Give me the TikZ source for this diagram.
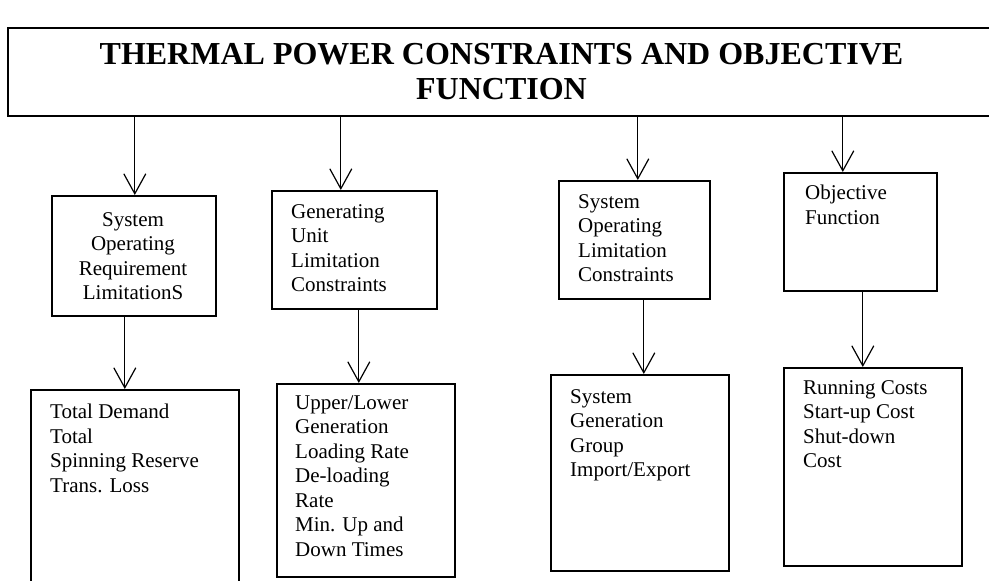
\documentclass[tikz,border=0pt]{standalone}
\usepackage{fontspec}
\setmainfont{Liberation Serif}
\usetikzlibrary{arrows.meta,calc}
\begin{document}
\begin{tikzpicture}[x=1pt,y=-1pt,
  box/.style={draw, line width=1.6pt, inner sep=0pt, anchor=north west},
  titlebox/.style={draw, line width=1.6pt, inner sep=0pt, minimum width=987pt,
    minimum height=88pt, align=center, font=\fontsize{32}{35}\selectfont\bfseries},
  txt/.style={inner sep=0pt, align=left, font=\fontsize{21}{24.5}\selectfont},
  arr/.style={line width=1.2pt, -{Straight Barb[length=20pt,width=22pt,line width=1.2pt]}}
]
\useasboundingbox (0,0) rectangle (989,581);
\clip (0,0) rectangle (989,581);

% title
\node[titlebox] (title) at (501.5,72) {THERMAL POWER CONSTRAINTS AND OBJECTIVE\\FUNCTION};

% first row of boxes
\node[box, minimum width=164pt, minimum height=120pt] (b1) at (51,195) {};
\node[box, minimum width=165pt, minimum height=118pt] (b2) at (271,190) {};
\node[box, minimum width=151pt, minimum height=118pt] (b3) at (558,180) {};
\node[box, minimum width=153pt, minimum height=118pt] (b4) at (783,172) {};

% second row of boxes
\node[box, minimum width=208pt, minimum height=220pt] (b5) at (30,389) {};
\node[box, minimum width=178pt, minimum height=193pt] (b6) at (276,383) {};
\node[box, minimum width=178pt, minimum height=196pt] (b7) at (550,374) {};
\node[box, minimum width=178pt, minimum height=198pt] (b8) at (783,367) {};

% texts
\node[txt, align=center, anchor=north] (l1) at (133,212) {System\\Operating\\Requirement\\LimitationS};
\node[txt, anchor=north west] (l2) at (291,204) {Generating\\Unit\\Limitation\\Constraints};
\node[txt, anchor=north west] (l3) at (578,194) {System\\Operating\\Limitation\\Constraints};
\node[txt, anchor=north west] (l4) at (805,185) {Objective\\Function};
\node[txt, anchor=north west] (l5) at (50,404) {Total Demand\\Total\\Spinning Reserve\\Trans. Loss};
\node[txt, anchor=north west] (l6) at (295,395) {Upper/Lower\\Generation\\Loading Rate\\De-loading\\Rate\\Min. Up and\\Down Times};
\node[txt, anchor=north west] (l7) at (570,389) {System\\Generation\\Group\\Import/Export};
\node[txt, anchor=north west] (l8) at (803,380) {Running Costs\\Start-up Cost\\Shut-down\\Cost};

% connectors from title
\coordinate (t1) at ($(b1.north)+(1,0)$);
\coordinate (t2) at ($(b2.north)+(-13.5,0)$);
\coordinate (t3) at ($(b3.north)+(3.5,0)$);
\coordinate (t4) at ($(b4.north)+(-17.5,0)$);
\draw[arr] (t1 |- title.south) -- (t1);
\draw[arr] (t2 |- title.south) -- (t2);
\draw[arr] (t3 |- title.south) -- (t3);
\draw[arr] (t4 |- title.south) -- (t4);

% connectors between rows
\coordinate (s1) at ($(b1.south)+(-9,0)$);
\coordinate (s2) at ($(b2.south)+(4.5,0)$);
\coordinate (s3) at ($(b3.south)+(9.5,0)$);
\coordinate (s4) at ($(b4.south)+(2.5,0)$);
\draw[arr] (s1) -- (s1 |- b5.north);
\draw[arr] (s2) -- (s2 |- b6.north);
\draw[arr] (s3) -- (s3 |- b7.north);
\draw[arr] (s4) -- (s4 |- b8.north);
\end{tikzpicture}
\end{document}
